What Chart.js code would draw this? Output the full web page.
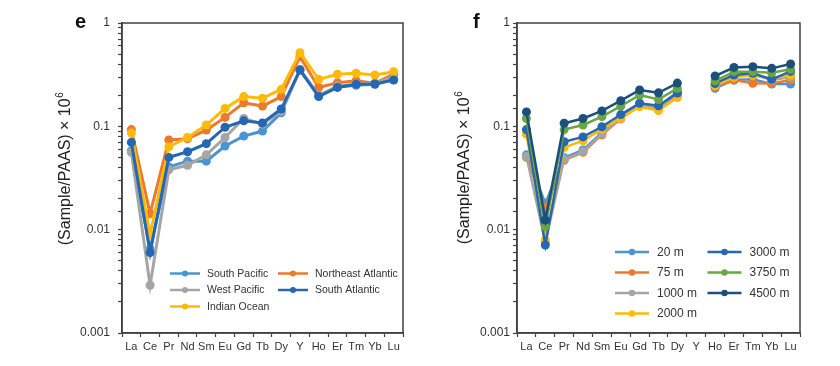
<!DOCTYPE html>
<html>
<head>
<meta charset="utf-8">
<script src="https://cdn.jsdelivr.net/npm/chart.js@4/dist/chart.umd.min.js"></script>
<style>
html,body{margin:0;padding:0;background:#fff;width:840px;height:366px;overflow:hidden}
.wrap{position:absolute;top:0;width:420px;height:366px}
#w1{left:0}
#w2{left:420px}
</style>
</head>
<body>
<div class="wrap" id="w1"><canvas id="c1" width="420" height="366"></canvas></div>
<div class="wrap" id="w2"><canvas id="c2" width="420" height="366"></canvas></div>
<script>
// ---------- data ----------
const categories = ['La','Ce','Pr','Nd','Sm','Eu','Gd','Tb','Dy','Y','Ho','Er','Tm','Yb','Lu'];
const yTickValues = [0.001, 0.01, 0.1, 1];
const yTickLabels = ['0.001', '0.01', '0.1', '1'];

// panel e
const southPacific      = [0.058, 0.0065, 0.0405, 0.046, 0.046, 0.0645, 0.0805, 0.090, 0.135, 0.355, 0.200, 0.240, 0.250, 0.255, 0.285];
const northeastAtlantic = [0.093, 0.0143, 0.0737, 0.076, 0.092, 0.122, 0.169, 0.157, 0.194, 0.472, 0.238, 0.264, 0.276, 0.261, 0.320];
const westPacific       = [0.056, 0.0029, 0.038, 0.042, 0.053, 0.078, 0.119, 0.105, 0.140, 0.350, 0.200, 0.245, 0.255, 0.260, 0.300];
const indianOcean       = [0.086, 0.0090, 0.0635, 0.078, 0.103, 0.149, 0.194, 0.187, 0.228, 0.516, 0.285, 0.319, 0.326, 0.314, 0.338];
const southAtlantic     = [0.070, 0.0060, 0.050, 0.0568, 0.068, 0.098, 0.113, 0.108, 0.147, 0.350, 0.194, 0.238, 0.255, 0.257, 0.281];

// panel f
const depth20   = [0.053, 0.0180, 0.0497, 0.059, 0.087, 0.125, 0.167, 0.155, 0.215, null, 0.233, 0.281, 0.285, 0.257, 0.257];
const depth75   = [0.050, 0.0160, 0.047, 0.056, 0.083, 0.118, 0.160, 0.150, 0.200, null, 0.240, 0.280, 0.261, 0.260, 0.281];
const depth1000 = [0.051, 0.0075, 0.048, 0.057, 0.085, 0.120, 0.160, 0.150, 0.205, null, 0.245, 0.300, 0.320, 0.280, 0.300];
const depth2000 = [0.084, 0.0079, 0.0626, 0.0726, 0.094, 0.120, 0.155, 0.142, 0.190, null, 0.250, 0.300, 0.310, 0.290, 0.314];
const depth3000 = [0.093, 0.0071, 0.071, 0.079, 0.099, 0.130, 0.167, 0.158, 0.210, null, 0.260, 0.314, 0.326, 0.285, 0.340];
const depth3750 = [0.119, 0.0107, 0.093, 0.103, 0.124, 0.157, 0.201, 0.182, 0.233, null, 0.276, 0.338, 0.338, 0.330, 0.356];
const depth4500 = [0.138, 0.0124, 0.107, 0.119, 0.141, 0.177, 0.225, 0.211, 0.262, null, 0.307, 0.372, 0.378, 0.364, 0.401];

// ---------- styling ----------
const FONT = "'Liberation Sans', Arial, Helvetica, sans-serif";
const AXIS = '#404040';
const C = {
  lightBlue: '#4A94D2', orange: '#EC7A2E', gray: '#A5A5A5', gold: '#FFBA08',
  blue: '#2567B3', green: '#6AA744', navy: '#1C4F7C'
};

function ds(label, data, color, order, radius, width) {
  return { label, data, borderColor: color, backgroundColor: color, pointBackgroundColor: color,
    pointBorderWidth: 0, pointRadius: radius, pointHoverRadius: radius, borderWidth: width,
    tension: 0, spanGaps: false, order };
}

function decorPlugin(opt) {
  return {
    id: 'decor',
    afterDraw(chart) {
      const ctx = chart.ctx, a = chart.chartArea;
      ctx.save();
      // frame
      ctx.strokeStyle = AXIS; ctx.lineWidth = 1.5;
      ctx.strokeRect(a.left, a.top, a.right - a.left, a.bottom - a.top);
      // panel letter
      ctx.fillStyle = '#111';
      ctx.font = 'bold 20px ' + FONT;
      ctx.textAlign = 'left'; ctx.textBaseline = 'alphabetic';
      ctx.fillText(opt.letter, opt.letterX, opt.letterY);
      // axis title
      ctx.translate(opt.titleX, opt.titleY);
      ctx.rotate(-Math.PI / 2);
      ctx.font = '16px ' + FONT;
      ctx.fillStyle = '#222';
      const main = '(Sample/PAAS) × 10';
      const wMain = ctx.measureText(main).width;
      ctx.font = '10px ' + FONT;
      const wSup = ctx.measureText('6').width;
      const total = wMain + wSup;
      ctx.font = '16px ' + FONT;
      ctx.textBaseline = 'middle';
      ctx.fillText(main, -total / 2, 0);
      ctx.font = '10px ' + FONT;
      ctx.fillText('6', -total / 2 + wMain + 0.5, -6);
      ctx.restore();
      // legend
      ctx.save();
      const L = opt.legend;
      ctx.font = L.font + 'px ' + FONT;
      ctx.textBaseline = 'middle'; ctx.textAlign = 'left';
      L.items.forEach(it => {
        const d = chart.data.datasets[it.ds];
        ctx.strokeStyle = d.borderColor; ctx.lineWidth = 2.5;
        ctx.beginPath(); ctx.moveTo(it.x - L.half, it.y); ctx.lineTo(it.x + L.half, it.y); ctx.stroke();
        ctx.fillStyle = d.borderColor;
        ctx.beginPath(); ctx.arc(it.x, it.y, L.r, 0, Math.PI * 2); ctx.fill();
        ctx.fillStyle = '#333';
        ctx.fillText(d.label, it.x + L.gap, it.y + 0.5);
      });
      ctx.restore();
    }
  };
}

function makeChart(id, datasets, plotLeft, padRight, yPad, yFont, decor) {
  return new Chart(document.getElementById(id), {
    type: 'line',
    data: { labels: categories, datasets },
    options: {
      responsive: false, animation: false, events: [],
      layout: { padding: { left: 0, right: padRight, top: 23, bottom: 0 } },
      plugins: { legend: { display: false }, tooltip: { enabled: false } },
      scales: {
        x: {
          type: 'category', offset: true,
          grid: { offset: true, drawOnChartArea: false, drawTicks: true, tickLength: 4, color: AXIS, tickColor: AXIS, tickWidth: 1.2 },
          border: { color: AXIS, width: 1.5 },
          ticks: { color: '#333', font: { family: FONT, size: 11 }, padding: 3, autoSkip: false, maxRotation: 0 },
          afterFit(s) { s.height = 33; }
        },
        y: {
          type: 'logarithmic', min: 0.001, max: 1,
          grid: { drawOnChartArea: false, drawTicks: true, tickLength: 4, color: AXIS, tickColor: AXIS, tickWidth: 1.2 },
          border: { color: AXIS, width: 1.5 },
          ticks: {
            color: '#333', font: { family: FONT, size: yFont }, padding: yPad, autoSkip: false,
            callback(v) {
              const i = yTickValues.findIndex(t => Math.abs(t - v) / t < 1e-6);
              return i >= 0 ? yTickLabels[i] : '';
            }
          },
          afterFit(s) { s.width = plotLeft; }
        }
      }
    },
    plugins: [decorPlugin(decor)]
  });
}

// Panel e (later series drawn on top)
makeChart('c1', [
  ds('South Pacific', southPacific, C.lightBlue, 5, 4.5, 3),
  ds('Northeast Atlantic', northeastAtlantic, C.orange, 4, 4.5, 3),
  ds('West Pacific', westPacific, C.gray, 3, 4.5, 3),
  ds('Indian Ocean', indianOcean, C.gold, 2, 4.5, 3),
  ds('South Atlantic', southAtlantic, C.blue, 1, 4.5, 3)
], 122, 17, 8, 12, {
  letter: 'e', letterX: 75, letterY: 28, titleX: 66, titleY: 169,
  legend: { font: 10.5, half: 15, r: 3, gap: 22, items: [
    { ds: 0, x: 185, y: 273.5 }, { ds: 2, x: 185, y: 290 }, { ds: 3, x: 185, y: 306.5 },
    { ds: 1, x: 293, y: 273.5 }, { ds: 4, x: 293, y: 290 }
  ] }
});

// Panel f
makeChart('c2', [
  ds('20 m', depth20, C.lightBlue, 7, 4.5, 2.5),
  ds('75 m', depth75, C.orange, 6, 4.5, 2.5),
  ds('1000 m', depth1000, C.gray, 5, 4.5, 2.5),
  ds('2000 m', depth2000, C.gold, 4, 4.5, 2.5),
  ds('3000 m', depth3000, C.blue, 3, 4.5, 2.5),
  ds('3750 m', depth3750, C.green, 2, 4.5, 2.5),
  ds('4500 m', depth4500, C.navy, 1, 4.5, 2.5)
], 97, 40, 3, 12, {
  letter: 'f', letterX: 53, letterY: 28, titleX: 45, titleY: 168,
  legend: { font: 12, half: 17, r: 3.2, gap: 25, items: [
    { ds: 0, x: 212, y: 252 }, { ds: 1, x: 212, y: 272.5 }, { ds: 2, x: 212, y: 293 }, { ds: 3, x: 212, y: 313.5 },
    { ds: 4, x: 304.5, y: 252 }, { ds: 5, x: 304.5, y: 272.5 }, { ds: 6, x: 304.5, y: 293 }
  ] }
});
</script>
</body>
</html>
